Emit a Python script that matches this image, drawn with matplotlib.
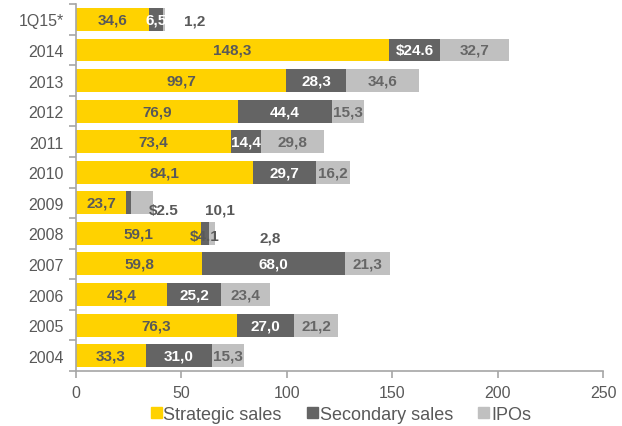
import matplotlib
matplotlib.use("Agg")
import matplotlib.pyplot as plt
from matplotlib.patches import Patch

plt.rcParams["font.family"] = ["Liberation Sans", "DejaVu Sans"]

periods = ["2004", "2005", "2006", "2007", "2008", "2009", "2010",
           "2011", "2012", "2013", "2014", "1Q15*"]
strategic = [33.3, 76.3, 43.4, 59.8, 59.1, 23.7, 84.1, 73.4, 76.9, 99.7, 148.3, 34.6]
secondary = [31.0, 27.0, 25.2, 68.0, 4.1, 2.5, 29.7, 14.4, 44.4, 28.3, 24.6, 6.5]
ipos = [15.3, 21.2, 23.4, 21.3, 2.8, 10.1, 16.2, 29.8, 15.3, 34.6, 32.7, 1.2]

strategic_labels = ["33,3", "76,3", "43,4", "59,8", "59,1", "23,7", "84,1",
                    "73,4", "76,9", "99,7", "148,3", "34,6"]
secondary_labels = ["31,0", "27,0", "25,2", "68,0", "$4.1", "$2.5", "29,7",
                    "14,4", "44,4", "28,3", "$24.6", "6,5"]
ipo_labels = ["15,3", "21,2", "23,4", "21,3", "2,8", "10,1", "16,2",
              "29,8", "15,3", "34,6", "32,7", "1,2"]

C_STRAT = "#FFD200"
C_SEC = "#646464"
C_IPO = "#C0C0C0"
TXT = "#595959"
TXT_IPO = "#666666"
AXC = "#A6A6A6"

fig = plt.figure(figsize=(6.22, 4.27), dpi=100)
ax = fig.add_axes([0.1222, 0.129, 0.8473, 0.859])

y = list(range(len(periods)))
h = 0.75
left2 = [a for a in strategic]
left3 = [a + b for a, b in zip(strategic, secondary)]
ax.barh(y, strategic, height=h, color=C_STRAT, linewidth=0)
ax.barh(y, secondary, left=left2, height=h, color=C_SEC, linewidth=0)
ax.barh(y, ipos, left=left3, height=h, color=C_IPO, linewidth=0)

# labels for narrow segments are moved beside the bar
sec_pos = {4: (61.2, -0.08), 5: (41.7, -0.22)}
ipo_pos = {4: (92.0, -0.15), 5: (68.3, -0.22), 11: (56.5, -0.05)}

fs = 11
for i in y:
    ax.text(strategic[i] / 2, i, strategic_labels[i], ha="center", va="center",
            fontsize=fs, fontweight="bold", color=TXT)
    if i in sec_pos:
        x, dy = sec_pos[i]
        ax.text(x, i + dy, secondary_labels[i], ha="center", va="center",
                fontsize=fs, fontweight="bold", color=TXT)
    else:
        ax.text(left2[i] + secondary[i] / 2, i, secondary_labels[i], ha="center",
                va="center", fontsize=fs, fontweight="bold", color="white")
    if i in ipo_pos:
        x, dy = ipo_pos[i]
        ax.text(x, i + dy, ipo_labels[i], ha="center", va="center",
                fontsize=fs, fontweight="bold", color=TXT)
    else:
        ax.text(left3[i] + ipos[i] / 2, i, ipo_labels[i], ha="center",
                va="center", fontsize=fs, fontweight="bold", color=TXT_IPO)

ax.set_xlim(0, 250)
ax.set_ylim(-0.5, len(periods) - 0.5)
ax.set_xticks([0, 50, 100, 150, 200, 250])
ax.set_yticks(y)
ax.set_yticklabels(periods)
ax.set_yticks([v - 0.5 for v in range(len(periods) + 1)], minor=True)
ax.tick_params(axis="y", which="major", length=0, pad=9, labelsize=11.5, labelcolor=TXT)
ax.tick_params(axis="y", which="minor", length=5, color=AXC, width=1.2)
ax.tick_params(axis="x", which="major", length=5, color=AXC, width=1.2,
               labelsize=11.5, labelcolor=TXT, pad=5)
for s in ["top", "right"]:
    ax.spines[s].set_visible(False)
for s in ["left", "bottom"]:
    ax.spines[s].set_color(AXC)
    ax.spines[s].set_linewidth(1.2)

handles = [Patch(color=C_STRAT), Patch(color=C_SEC), Patch(color=C_IPO)]
fig.legend(handles, ["Strategic sales", "Secondary sales", "IPOs"],
           loc="center", bbox_to_anchor=(0.548, 0.027), ncol=3, frameon=False,
           fontsize=13, handlelength=0.6, handleheight=0.6, handletextpad=0.1,
           columnspacing=1.4, labelcolor=TXT, borderpad=0)

fig.savefig("out.png", dpi=100)
